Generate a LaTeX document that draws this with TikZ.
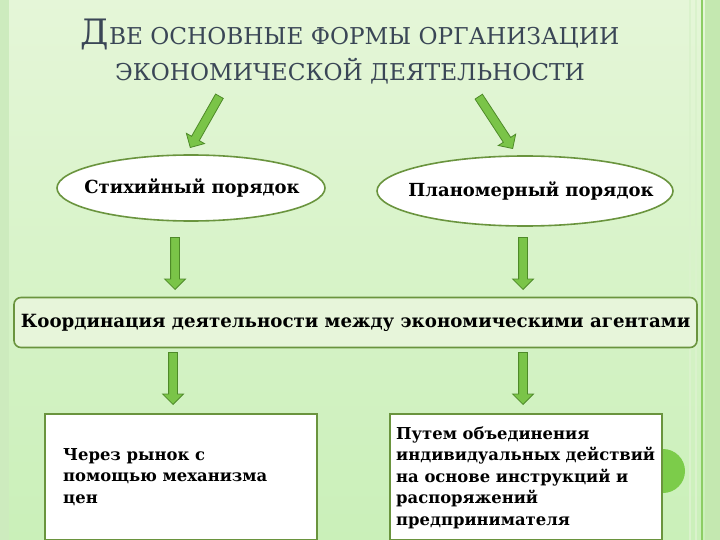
\documentclass[tikz,border=0pt]{standalone}
\usepackage{fontspec}
\setmainfont{DejaVu Serif}
\usetikzlibrary{shapes.geometric,shapes.arrows}
\definecolor{bgtop}{RGB}{229,246,216}
\definecolor{bgbot}{RGB}{202,240,185}
\definecolor{edgec}{RGB}{106,148,62}
\definecolor{agreen}{RGB}{122,196,72}
\definecolor{adark}{RGB}{78,138,40}
\definecolor{titlec}{RGB}{58,70,86}
\definecolor{boxfill}{RGB}{231,245,218}
\definecolor{dotc}{RGB}{124,204,74}
\definecolor{stripeA}{RGB}{205,235,190}
\definecolor{stripeB}{RGB}{196,232,176}
\definecolor{stripeC}{RGB}{140,205,100}
\definecolor{stripeD}{RGB}{218,242,204}
\tikzset{
  blockarrow/.style={single arrow, draw=adark, fill=agreen, line width=0.8pt,
    inner xsep=0pt, inner ysep=4pt, minimum width=0pt,
    single arrow head extend=6pt, single arrow tip angle=90, anchor=tip},
  oval/.style={ellipse, draw=edgec, line width=1.6pt, fill=white, inner sep=0pt},
  ovaltext/.style={font=\fontsize{18}{21}\selectfont\bfseries, inner sep=0pt},
  wbox/.style={draw=edgec, line width=1.5pt, fill=white, anchor=north west,
    minimum width=272pt, minimum height=126pt, inner sep=0pt},
  wtext/.style={align=left, anchor=west, inner sep=0pt,
    font=\fontsize{16.4}{21.5}\selectfont\bfseries},
}
\begin{document}
\begin{tikzpicture}[x=1pt,y=-1pt]
\useasboundingbox (0,0) rectangle (720,540);
\shade[top color=bgtop, bottom color=bgbot] (0,0) rectangle (720,540);
% side stripes
\fill[stripeA] (0,0) rectangle (9,540);
\fill[stripeB] (705,0) rectangle (720,540);
\draw[stripeD, line width=2pt] (690,0) -- (690,540);
\draw[stripeD, line width=2pt] (696,0) -- (696,540);
\draw[stripeC, line width=1.4pt] (702,0) -- (702,540);
% title
\node[text=titlec, align=center, font=\fontsize{23.2}{36}\selectfont] (title) at (350,52)
  {{\fontsize{35}{36}\selectfont Д}ВЕ ОСНОВНЫЕ ФОРМЫ ОРГАНИЗАЦИИ\\ЭКОНОМИЧЕСКОЙ ДЕЯТЕЛЬНОСТИ};
% ovals
\node[oval, minimum width=268pt, minimum height=66pt] (e1) at (191,188) {};
\node[ovaltext] (e1t) at (192,188) {Стихийный порядок};
\node[oval, minimum width=296pt, minimum height=70pt] (e2) at (525,191) {};
\node[ovaltext] (e2t) at (531,191) {Планомерный порядок};
% arrows from title to ovals
\node[blockarrow, minimum height=59pt, rotate=240.4] (a1) at (190,148) {};
\node[blockarrow, minimum height=62pt, rotate=303.2] (a2) at (513,149) {};
% middle box
\node[draw=edgec, line width=1.6pt, fill=boxfill, rounded corners=7pt,
  minimum width=683pt, minimum height=50pt, font=\fontsize{18.2}{20}\selectfont\bfseries]
  (coord) at (355.5,322.5) {Координация деятельности между экономическими агентами};
\node[blockarrow, minimum height=52pt, rotate=-90] (a3) at (175,290) {};
\node[blockarrow, minimum height=52pt, rotate=-90] (a4) at (523,290) {};
\node[blockarrow, minimum height=52pt, rotate=-90] (a5) at (173,405) {};
\node[blockarrow, minimum height=52pt, rotate=-90] (a6) at (523,405) {};
% green dot behind right box
\fill[dotc] (663,471) circle (22);
% bottom boxes
\node[wbox] (b1) at (44,413) {};
\node[wtext] (b1t) at (63,477) {Через рынок с\\помощью механизма\\цен};
\node[wbox] (b2) at (389,413) {};
\node[wtext] (b2t) at (396,477.5)
  {Путем объединения\\индивидуальных действий\\на основе инструкций и\\распоряжений\\предпринимателя};
\end{tikzpicture}
\end{document}
